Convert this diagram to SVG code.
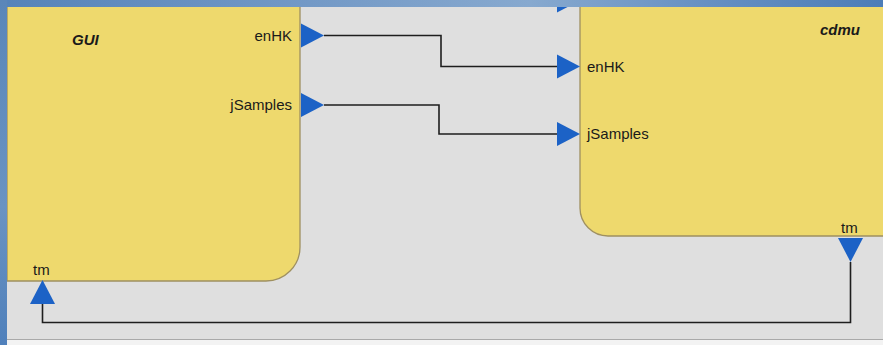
<svg xmlns="http://www.w3.org/2000/svg" width="883" height="345" viewBox="0 0 883 345">
  <defs>
    <linearGradient id="topBar" x1="0" y1="0" x2="1" y2="0">
      <stop offset="0" stop-color="#5583b9"/>
      <stop offset="0.35" stop-color="#7399c6"/>
      <stop offset="0.6" stop-color="#87a9cf"/>
      <stop offset="0.8" stop-color="#6690c2"/>
      <stop offset="1" stop-color="#4c7db8"/>
    </linearGradient>
    <linearGradient id="sideBar" x1="0" y1="0" x2="0" y2="1">
      <stop offset="0" stop-color="#5a86b9"/>
      <stop offset="0.6" stop-color="#6a93c2"/>
      <stop offset="1" stop-color="#4f80bb"/>
    </linearGradient>
  </defs>
  <style>
    .block { fill: #eed96d; stroke: #9f9060; stroke-width: 1.3; }
    .port { fill: #1c62c6; }
    .wire { fill: none; stroke: #1e1e1e; stroke-width: 1.6; }
    .title { font-family: "Liberation Sans", Arial, sans-serif; font-size: 15px; font-weight: bold; font-style: italic; fill: #1a1a1a; }
    .label { font-family: "Liberation Sans", Arial, sans-serif; font-size: 15px; fill: #1a1a1a; }
  </style>

  <!-- canvas -->
  <rect x="0" y="0" width="883" height="345" fill="#dfdfdf"/>
  <rect x="0" y="340" width="883" height="5" fill="#f3f3f3"/>
  <line x1="0" y1="339.5" x2="883" y2="339.5" stroke="#a9a9a9" stroke-width="1"/>

  <!-- GUI block -->
  <g id="node-gui">
    <path class="block" d="M7,6 H300 V247 A34,34 0 0 1 266,281 H7 Z"/>
    <text class="title" x="72" y="45">GUI</text>
    <text class="label" x="292" y="41" text-anchor="end">enHK</text>
    <text class="label" x="292" y="110" text-anchor="end">jSamples</text>
    <text class="label" x="33" y="275">tm</text>
    <polygon class="port" points="301,23.5 324,35.5 301,47.5"/>
    <polygon class="port" points="301,93 324,105 301,117"/>
    <polygon class="port" points="42.5,280 55,304 30,304"/>
  </g>

  <!-- cdmu block -->
  <g id="node-cdmu">
    <path class="block" d="M580,6 V208 A28,28 0 0 0 608,236 H890 V6 Z"/>
    <text class="title" x="820" y="35">cdmu</text>
    <text class="label" x="587" y="72">enHK</text>
    <text class="label" x="587" y="139">jSamples</text>
    <text class="label" x="841" y="233">tm</text>
    <polygon class="port" points="557,54.5 580,66.5 557,78.5"/>
    <polygon class="port" points="557,122 580,134 557,146"/>
    <polygon class="port" points="838,238 863,238 850.5,262"/>
    <polygon class="port" points="557,-11.5 580,0.5 557,12.5"/>
  </g>

  <!-- connectors -->
  <g id="connectors">
    <polyline class="wire" points="324,35.5 441,35.5 441,66.5 557,66.5"/>
    <polyline class="wire" points="324,105 439,105 439,134 557,134"/>
    <polyline class="wire" points="850.5,262 850.5,322.5 42.5,322.5 42.5,304"/>
  </g>

  <!-- window frame -->
  <rect x="0" y="0" width="883" height="7" fill="url(#topBar)"/>
  <rect x="0" y="0" width="7" height="345" fill="url(#sideBar)"/>
</svg>
